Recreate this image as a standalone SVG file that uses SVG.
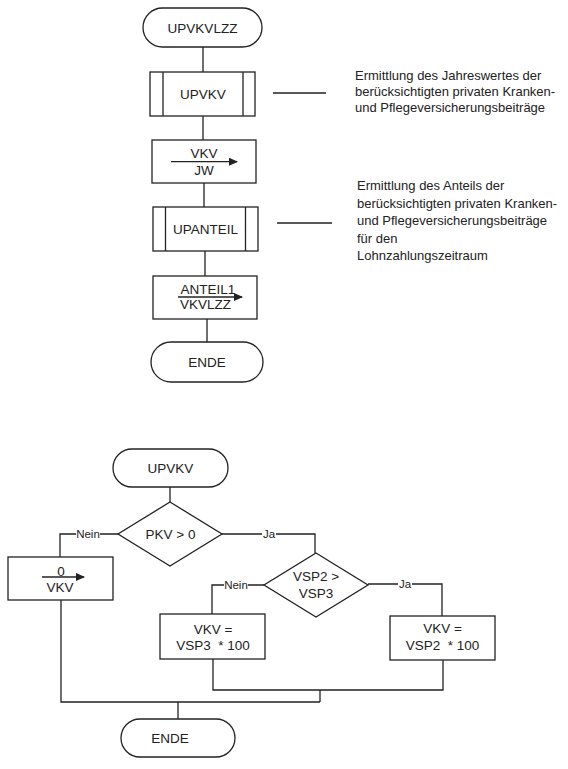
<svg xmlns="http://www.w3.org/2000/svg" width="568" height="769" viewBox="0 0 568 769">
<style>
.s{fill:#fff;stroke:#222;stroke-width:1.3}
.l{fill:none;stroke:#222;stroke-width:1.3}
text{font-family:"Liberation Sans",Arial,sans-serif;font-size:13.5px;fill:#222}
.c{text-anchor:middle}
.n{font-size:13px}
.lb{font-size:11.5px;text-anchor:middle}
.bg{fill:#fff;stroke:none}
</style>
<defs>
<marker id="ah" markerWidth="9" markerHeight="8" refX="8" refY="4" orient="auto" markerUnits="userSpaceOnUse">
<path d="M0,0 L9,4 L0,8 Z" fill="#222"/>
</marker>
</defs>
<rect width="568" height="769" fill="#fff"/>
<g id="connectors">
<path class="l" d="M203,47 V72 M203,116 V140 M204,183 V207 M205,251 V276 M207,319 V342"/>
<path class="l" d="M273,93 H326 M277,223 H332"/>
<path class="l" d="M170,487 V502"/>
<path class="l" d="M118,534 H60 V557"/>
<path class="l" d="M222,534 H315 V553"/>
<path class="l" d="M264,585 H212 V614"/>
<path class="l" d="M368,584 H442 V616"/>
<path class="l" d="M61,600 V702 H320"/>
<path class="l" d="M213,659 V690 H443 V660"/>
<path class="l" d="M320,690 V702 M178,702 V719"/>
<rect class="bg" x="76" y="528" width="24" height="13"/>
<text class="lb" x="88" y="538">Nein</text>
<rect class="bg" x="262" y="528" width="14" height="13"/>
<text class="lb" x="269" y="538">Ja</text>
<rect class="bg" x="224" y="579" width="24" height="13"/>
<text class="lb" x="236" y="589">Nein</text>
<rect class="bg" x="398" y="578" width="14" height="13"/>
<text class="lb" x="405" y="588">Ja</text>
</g>
<g id="start1">
<rect class="s" x="143" y="8" width="119" height="39" rx="19.5"/>
<text class="c" x="202.5" y="32.5">UPVKVLZZ</text>
</g>
<g id="sub_upvkv">
<rect class="s" x="150" y="72" width="105" height="44"/>
<path class="l" d="M163,72 V116 M243,72 V116"/>
<text class="c" x="203" y="99">UPVKV</text>
</g>
<g id="assign_jw">
<rect class="s" x="152" y="140" width="104" height="43"/>
<text class="c" x="204" y="157.5">VKV</text>
<path class="l" d="M171,161.7 H237" marker-end="url(#ah)"/>
<text class="c" x="204" y="175">JW</text>
</g>
<g id="sub_upanteil">
<rect class="s" x="153" y="207" width="105" height="44"/>
<path class="l" d="M165.5,207 V251 M245.5,207 V251"/>
<text class="c" x="205.5" y="234">UPANTEIL</text>
</g>
<g id="assign_vkvlzz">
<rect class="s" x="153" y="276" width="104" height="43"/>
<text class="c" x="208" y="293.5">ANTEIL1</text>
<path class="l" d="M178,297 H242" marker-end="url(#ah)"/>
<text class="c" x="205.5" y="308.5">VKVLZZ</text>
</g>
<g id="end1">
<rect class="s" x="151" y="342" width="112" height="40" rx="20"/>
<text class="c" x="207" y="367">ENDE</text>
</g>
<g id="note1">
<text class="n" x="355" y="79.5">Ermittlung des Jahreswertes der</text>
<text class="n" x="355" y="96">berücksichtigten privaten Kranken-</text>
<text class="n" x="355" y="111.5">und Pflegeversicherungsbeiträge</text>
</g>
<g id="note2">
<text class="n" x="357" y="190">Ermittlung des Anteils der</text>
<text class="n" x="357" y="207.5">berücksichtigten privaten Kranken-</text>
<text class="n" x="357" y="225">und Pflegeversicherungsbeiträge</text>
<text class="n" x="357" y="242.5">für den</text>
<text class="n" x="357" y="260">Lohnzahlungszeitraum</text>
</g>
<g id="start2">
<rect class="s" x="113" y="449" width="115" height="38" rx="19"/>
<text class="c" x="170.5" y="473">UPVKV</text>
</g>
<g id="dec_pkv">
<path class="s" d="M170,502 L222,534 L170,566 L118,534 Z"/>
<text class="c" x="170.5" y="539">PKV &gt; 0</text>
</g>
<g id="assign_zero">
<rect class="s" x="8" y="557" width="105" height="43"/>
<text class="c" x="61" y="576">0</text>
<path class="l" d="M42,577 H84" marker-end="url(#ah)"/>
<text class="c" x="60" y="591.5">VKV</text>
</g>
<g id="dec_vsp">
<path class="s" d="M316,553 L368,585 L316,617 L264,585 Z"/>
<text class="c" x="316" y="581">VSP2 &gt;</text>
<text class="c" x="316" y="597.5">VSP3</text>
</g>
<g id="calc_vsp3">
<rect class="s" x="160" y="614" width="105" height="45"/>
<text class="c" x="213" y="633.5">VKV =</text>
<text class="c" x="213" y="650" xml:space="preserve">VSP3  * 100</text>
</g>
<g id="calc_vsp2">
<rect class="s" x="390" y="616" width="105" height="44"/>
<text class="c" x="442.5" y="633">VKV =</text>
<text class="c" x="442.5" y="650" xml:space="preserve">VSP2  * 100</text>
</g>
<g id="end2">
<rect class="s" x="121" y="719" width="114" height="38" rx="19"/>
<text class="c" x="170" y="742.5">ENDE</text>
</g>
</svg>
